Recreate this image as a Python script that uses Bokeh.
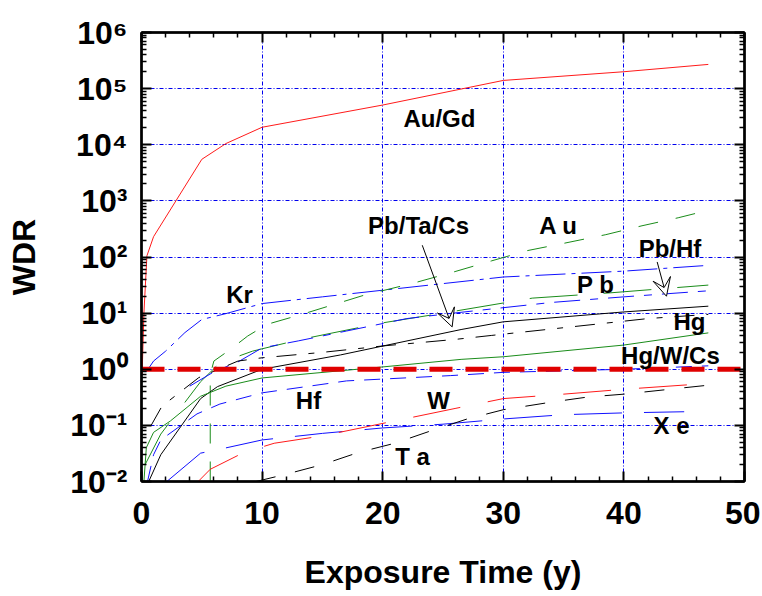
from bokeh.plotting import figure
from bokeh.models import (Range1d, LinearAxis, LogAxis, FixedTicker,
                          Arrow, VeeHead)
from bokeh.core.properties import value
from bokeh.embed import file_html
from bokeh.resources import INLINE

FONT = "Liberation Sans"

# ---------------- data ----------------
x_major = [0, 10, 20, 30, 40, 50]
x_minor = [2, 4, 6, 8, 12, 14, 16, 18, 22, 24, 26, 28, 32, 34, 36, 38, 42, 44, 46, 48]
x_grid = [10, 20, 30, 40]
y_exps = [-2, -1, 0, 1, 2, 3, 4, 5, 6]
y_tick_text = ["10⁻²", "10⁻¹", "10⁰", "10¹", "10²", "10³", "10⁴", "10⁵", "10⁶"]
y_grid_exps = [-1, 0, 1, 2, 3, 4, 5]
y_minor_mult = [2, 3, 4, 5, 6, 7, 8, 9]

au_gd_x = [0.05, 0.2, 0.45, 1.0, 5.0, 7.0, 10, 20, 30, 40, 47]
au_gd_y = [0.8, 10, 105, 230, 5500, 10500, 20500, 51000, 140000, 200000, 270000]

kr_x = [0.4, 1.0, 2.0, 3.6, 5.0, 7.0, 10, 15, 20, 30, 40, 47]
kr_y = [0.9, 1.4, 2.1, 4.5, 7.7, 9.8, 14.8, 19.5, 25.6, 44, 56, 71]

au_x = [5.7, 5.7, 6.0, 7.3, 8.8, 10.4, 13.5, 18.5, 22.5, 26, 29, 32, 35, 38.5, 41.5, 44.5, 47]
au_y = [0.01, 0.8, 1.4, 2.2, 3.9, 6.3, 9.8, 21, 34, 55, 85, 130, 175, 250, 360, 500, 680]

pb_x = [0.3, 1.6, 4.9, 6.5, 9.2, 13.2, 19.8, 25.6, 32.4, 38.9, 47]
pb_y = [0.02, 0.07, 0.6, 1.3, 2.1, 3.4, 6.6, 10.5, 18.5, 23, 31.6]

pbhf_x = [4, 6, 8, 10, 13, 17, 22, 25.5, 30, 34, 40, 47]
pbhf_y = [0.5, 0.9, 1.35, 2.4, 3.2, 4.8, 8, 9.8, 12.5, 15.5, 19.5, 25]

hg_x = [0.6, 1.6, 4.9, 6.3, 10, 16.5, 26.5, 30, 40, 47]
hg_y = [0.01, 0.03, 0.3, 0.49, 1.0, 1.8, 5.1, 7, 10.5, 13.3]

pbtacs_x = [0.8, 1.7, 4.75, 8, 10, 15, 20, 26, 29, 35, 42, 47]
pbtacs_y = [0.1, 0.22, 0.71, 1.4, 1.6, 2.0, 2.6, 3.4, 4.0, 5.5, 8, 9.5]

hgwcs_x = [0.2, 0.4, 1.0, 2.4, 4.9, 7, 10, 20, 26.5, 30, 40, 47]
hgwcs_y = [0.01, 0.04, 0.075, 0.12, 0.33, 0.5, 0.7, 1.1, 1.5, 1.67, 2.7, 4.45]

hf_x = [0.5, 1.0, 1.6, 4.6, 6.5, 10, 17, 25.6, 30, 40, 47]
hf_y = [0.01, 0.03, 0.055, 0.16, 0.24, 0.38, 0.62, 0.77, 0.88, 1.0, 1.15]

xe_x = [2.1, 4.9, 6.1, 10, 15, 20, 25, 30, 35, 40, 45]
xe_y = [0.01, 0.032, 0.036, 0.055, 0.072, 0.09, 0.105, 0.13, 0.155, 0.167, 0.175]

w_x = [4.7, 5.7, 8.5, 11, 15, 21, 26, 30, 35, 40, 47]
w_y = [0.01, 0.0165, 0.033, 0.048, 0.065, 0.12, 0.2, 0.3, 0.36, 0.44, 0.56]

ta_x = [9.5, 12, 15, 18, 21, 24, 27, 30, 34, 37, 40, 47]
ta_y = [0.01, 0.0135, 0.02, 0.033, 0.048, 0.08, 0.13, 0.19, 0.26, 0.32, 0.36, 0.52]

limit_x = [0, 50]
limit_y = [1, 1]

label_text = ["Au/Gd", "Pb/Ta/Cs", "A u", "Pb/Hf", "Kr", "P b", "Hg", "Hg/W/Cs",
              "Hf", "W", "T a", "X e"]
label_x = [24.7, 22.97, 34.58, 43.82, 8.13, 37.65, 45.44, 43.86, 13.85, 24.63, 22.47, 43.95]
label_y = [29400, 367, 367, 143, 21.7, 32.7, 7.18, 1.78, 0.282, 0.282, 0.0284, 0.1013]

arrow_x0 = [23.28, 42.76]
arrow_y0 = [162, 81.6]
arrow_x1 = [25.76, 43.53]
arrow_y1 = [5.69, 20.0]

# ---------------- figure ----------------
p = figure(width=760, height=594, x_range=Range1d(0, 50), y_range=Range1d(1e-2, 1e6),
           y_axis_type="log", output_backend="svg", toolbar_location=None,
           min_border_left=141, min_border_right=16, min_border_top=32,
           min_border_bottom=113)
p.outline_line_color = "black"
p.outline_line_width = 2

y_major = [10.0 ** e for e in y_exps]
y_minor = [m * 10.0 ** e for e in y_exps[:-1] for m in y_minor_mult]


def style_axis(ax, ticker):
    ax.ticker = ticker
    ax.axis_line_width = 2.5
    ax.axis_line_color = "black"
    ax.major_tick_in = 10
    ax.major_tick_out = 0
    ax.minor_tick_in = 5
    ax.minor_tick_out = 0
    ax.major_tick_line_width = 2
    ax.minor_tick_line_width = 1.5
    ax.major_tick_line_color = "black"
    ax.minor_tick_line_color = "black"


def hide_labels(ax, ticks):
    ax.major_label_overrides = {t: "" for t in ticks}
    ax.major_label_text_color = None
    ax.major_label_standoff = 0


xb = p.xaxis[0]
style_axis(xb, FixedTicker(ticks=x_major, minor_ticks=x_minor))
xb.major_label_text_font = FONT
xb.major_label_text_font_style = "bold"
xb.major_label_text_font_size = "32px"
xb.major_label_text_color = "black"
xb.major_label_standoff = 20
xb.axis_label = "Exposure Time (y)"
xb.axis_label_text_font = FONT
xb.axis_label_text_font_style = "bold"
xb.axis_label_text_font_size = "32px"
xb.axis_label_text_color = "black"
xb.axis_label_standoff = 27

yl = p.yaxis[0]
style_axis(yl, FixedTicker(ticks=y_major, minor_ticks=y_minor))
yl.major_label_overrides = {t: s for t, s in zip(y_major, y_tick_text)}
yl.major_label_text_font = FONT
yl.major_label_text_font_style = "bold"
yl.major_label_text_font_size = "32px"
yl.major_label_text_color = "black"
yl.major_label_standoff = 14
yl.axis_label = "WDR"
yl.axis_label_text_font = FONT
yl.axis_label_text_font_style = "bold"
yl.axis_label_text_font_size = "32px"
yl.axis_label_text_color = "black"
yl.axis_label_standoff = 25

xt = LinearAxis()
style_axis(xt, FixedTicker(ticks=x_major, minor_ticks=x_minor))
hide_labels(xt, x_major)
p.add_layout(xt, "above")

yr = LogAxis()
style_axis(yr, FixedTicker(ticks=y_major, minor_ticks=y_minor))
hide_labels(yr, y_major)
p.add_layout(yr, "right")

p.xgrid.ticker = FixedTicker(ticks=x_grid)
p.ygrid.ticker = FixedTicker(ticks=[10.0 ** e for e in y_grid_exps])
for g in (p.xgrid[0], p.ygrid[0]):
    g.grid_line_color = "#0000ee"
    g.grid_line_width = 1
    g.grid_line_dash = "4 2 1 2"
    g.grid_line_alpha = 1.0

RED = "#ff1a1a"
GREEN = "#1a8c1a"
BLUE = "#1010ff"

p.line(au_gd_x, au_gd_y, line_color=RED, line_width=1)
p.line(kr_x, kr_y, line_color=BLUE, line_width=1, line_dash="30 6 4 6")
p.line(au_x, au_y, line_color=GREEN, line_width=1, line_dash="20 18")
p.line(pb_x, pb_y, line_color=GREEN, line_width=1, line_dash="48 26")
p.line(pbhf_x, pbhf_y, line_color=BLUE, line_width=1, line_dash="26 10 8 10")
p.line(hg_x, hg_y, line_color="black", line_width=1)
p.line(pbtacs_x, pbtacs_y, line_color="black", line_width=1, line_dash="20 12 6 12")
p.line(hgwcs_x, hgwcs_y, line_color=GREEN, line_width=1)
p.line(hf_x, hf_y, line_color=BLUE, line_width=1, line_dash="16 10")
p.line(xe_x, xe_y, line_color=BLUE, line_width=1, line_dash="48 22")
p.line(w_x, w_y, line_color=RED, line_width=1, line_dash="48 28")
p.line(ta_x, ta_y, line_color="black", line_width=1, line_dash="20 20")

p.line(limit_x, limit_y, line_color="#e00000", line_width=5, line_dash="23 13")

p.text(x=label_x, y=label_y, text=label_text, text_font=value(FONT),
       text_font_style="bold", text_font_size="24px", text_color="black",
       text_align="center", text_baseline="middle")

for i in range(len(arrow_x0)):
    p.add_layout(Arrow(end=VeeHead(size=18, fill_color="white", line_color="black",
                                   line_width=1),
                       x_start=arrow_x0[i], y_start=arrow_y0[i],
                       x_end=arrow_x1[i], y_end=arrow_y1[i],
                       line_color="black", line_width=1))

open("out.html", "w").write(file_html(p, INLINE))
